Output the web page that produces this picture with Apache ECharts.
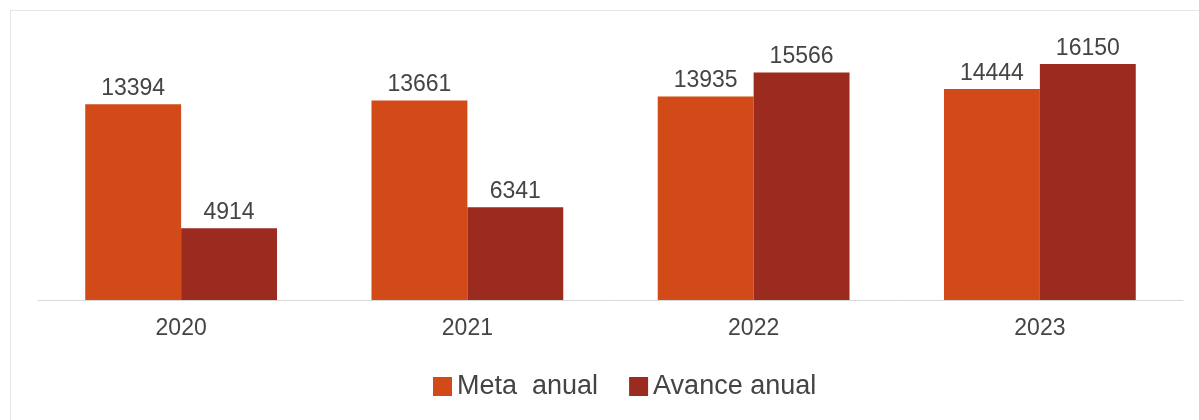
<!DOCTYPE html>
<html>
<head>
<meta charset="utf-8">
<script src="https://cdn.jsdelivr.net/npm/echarts@6/dist/echarts.min.js"></script>
<style>
html,body{margin:0;padding:0;background:#fff;}
#frame{position:absolute;left:10px;top:10px;width:1300px;height:500px;border:1px solid #e6e6e6;box-sizing:border-box;}
#chart{position:absolute;left:0;top:0;width:1199px;height:420px;}
</style>
</head>
<body>
<div id="frame"></div>
<div id="chart"></div>
<script>
const categories = ['2020', '2021', '2022', '2023'];
const metaAnual = [13394, 13661, 13935, 14444];
const avanceAnual = [4914, 6341, 15566, 16150];
const seriesNames = ['Meta  anual', 'Avance anual'];

const chart = echarts.init(document.getElementById('chart'), null, {renderer: 'canvas'});
const labelStyle = {show: true, position: 'top', distance: 4, color: '#444444', fontSize: 23, fontFamily: 'Liberation Sans, Arial, sans-serif'};
chart.setOption({
  animation: false,
  backgroundColor: 'transparent',
  grid: {left: 38, right: 16, top: 37, bottom: 120},
  legend: {
    data: seriesNames,
    left: 428, top: 368,
    itemWidth: 19, itemHeight: 19, itemGap: 31,
    icon: 'rect',
    textStyle: {color: '#444444', fontSize: 27, fontFamily: 'Liberation Sans, Arial, sans-serif'}
  },
  xAxis: {
    type: 'category',
    data: categories,
    axisLine: {lineStyle: {color: '#d9d9d9', width: 1}},
    axisTick: {show: false},
    axisLabel: {color: '#444444', fontSize: 23, margin: 17, fontFamily: 'Liberation Sans, Arial, sans-serif'}
  },
  yAxis: {
    type: 'value', min: 0, max: 18000, show: false,
    splitLine: {show: false}
  },
  series: [
    {name: seriesNames[0], type: 'bar', data: metaAnual, barGap: 0, barCategoryGap: '33%',
     itemStyle: {color: '#D24A17'}, label: labelStyle},
    {name: seriesNames[1], type: 'bar', data: avanceAnual, barGap: 0, barCategoryGap: '33%',
     itemStyle: {color: '#9B2A1F'}, label: labelStyle}
  ]
});
</script>
</body>
</html>
